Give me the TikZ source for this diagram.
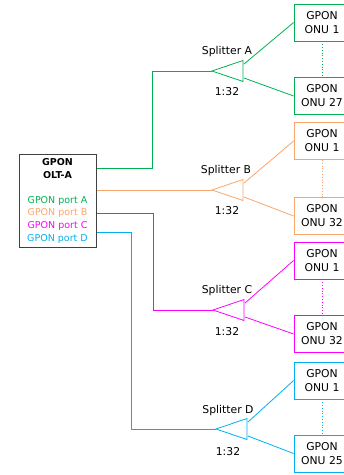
\documentclass[tikz,border=0pt]{standalone}
\usepackage{fontspec}
\setmainfont{DejaVu Sans}
\usepackage{xcolor}
\usetikzlibrary{positioning, calc}
\definecolor{portA}{HTML}{00B050}
\definecolor{portB}{HTML}{F9A66C}
\definecolor{portC}{HTML}{FF00FF}
\definecolor{portD}{HTML}{00B0F0}
\definecolor{oltgray}{HTML}{404040}

\begin{document}
\begin{tikzpicture}[
    x=1pt, y=-1pt,
    every node/.style={font=\fontsize{10.8}{14}\selectfont},
    olt/.style={rectangle, draw=oltgray, line width=1pt,
                minimum width=77pt, minimum height=93pt},
    oltname/.style={font=\fontsize{9.5}{13}\selectfont\bfseries,
                    align=center, inner sep=0pt},
    port/.style={font=\fontsize{9.5}{11}\selectfont, inner sep=0pt},
    onu/.style={rectangle, draw=#1, line width=0.8pt, minimum width=56pt,
                minimum height=37pt, align=center, inner sep=0pt},
    link/.style={draw=#1, line width=0.8pt},
    gap/.style={draw=#1, line width=0.8pt, dotted}
]
\useasboundingbox (0,0) rectangle (344,475);
\clip (0,0) rectangle (344,475);

\node[olt] (olt) at (57.5,200.5) {};
\node[oltname] (name) at (57.5,168.5) {GPON\\OLT-A};
\node[port, text=portA] (pa) at (57.5,201) {GPON port A};
\node[port, text=portB] (pb) at (57.5,213) {GPON port B};
\node[port, text=portC] (pc) at (57.5,226) {GPON port C};
\node[port, text=portD] (pd) at (57.5,239) {GPON port D};

\coordinate (oA) at (olt.east |- 0,168);
\coordinate (oB) at (olt.east |- 0,190);
\coordinate (oC) at (olt.east |- 0,213);
\coordinate (oD) at (olt.east |- 0,232);

% splitters: tip coordinate, triangle opens to the right
\coordinate (spA) at (212,71);
\coordinate (spB) at (212,190);
\coordinate (spC) at (213,310);
\coordinate (spD) at (216,429);
\foreach \s/\c in {spA/portA, spB/portB, spC/portC, spD/portD}
  \draw[link=\c] (\s) -- ++(31,-10.5) -- ++(0,21) -- cycle;

\node (labA) at ($(spA)+(15,-19)$) {Splitter A};
\node (ratA) at ($(spA)+(15,21)$) {1:32};
\node (labB) at ($(spB)+(14,-19)$) {Splitter B};
\node (ratB) at ($(spB)+(15,21)$) {1:32};
\node (labC) at ($(spC)+(14,-19)$) {Splitter C};
\node (ratC) at ($(spC)+(14,22)$) {1:32};
\node (labD) at ($(spD)+(12,-18)$) {Splitter D};
\node (ratD) at ($(spD)+(12,23)$) {1:32};

\node[onu=portA] (a1) at (322,22.5) {GPON\\ONU 1};
\node[onu=portA] (a27) at (322,96) {GPON\\ONU 27};
\node[onu=portB] (b1) at (322,141) {GPON\\ONU 1};
\node[onu=portB] (b32) at (322,216) {GPON\\ONU 32};
\node[onu=portC] (c1) at (322,260.5) {GPON\\ONU 1};
\node[onu=portC] (c32) at (322,334) {GPON\\ONU 32};
\node[onu=portD] (d1) at (322,380.5) {GPON\\ONU 1};
\node[onu=portD] (d25) at (322,453.5) {GPON\\ONU 25};

\draw[link=portA] (oA) -| (152,71) -- (spA);
\draw[link=portB] (oB) -- (spB);
\draw[link=portC] (oC) -| (153,310) -- (spC);
\draw[link=portD] (oD) -| (131,429) -- (spD);

\draw[link=portA] ($(spA)+(32,-7)$) -- (a1.west);
\draw[link=portA] ($(spA)+(32,7)$) -- (a27.west);
\draw[link=portB] ($(spB)+(32,-7)$) -- (b1.west);
\draw[link=portB] ($(spB)+(32,7)$) -- (b32.west);
\draw[link=portC] ($(spC)+(32,-7)$) -- (c1.west);
\draw[link=portC] ($(spC)+(32,7)$) -- (c32.west);
\draw[link=portD] ($(spD)+(32,-7)$) -- (d1.west);
\draw[link=portD] ($(spD)+(32,7)$) -- (d25.west);

\draw[gap=portA] (a1) -- (a27);
\draw[gap=portB] (b1) -- (b32);
\draw[gap=portC] (c1) -- (c32);
\draw[gap=portD] (d1) -- (d25);

\end{tikzpicture}
\end{document}
